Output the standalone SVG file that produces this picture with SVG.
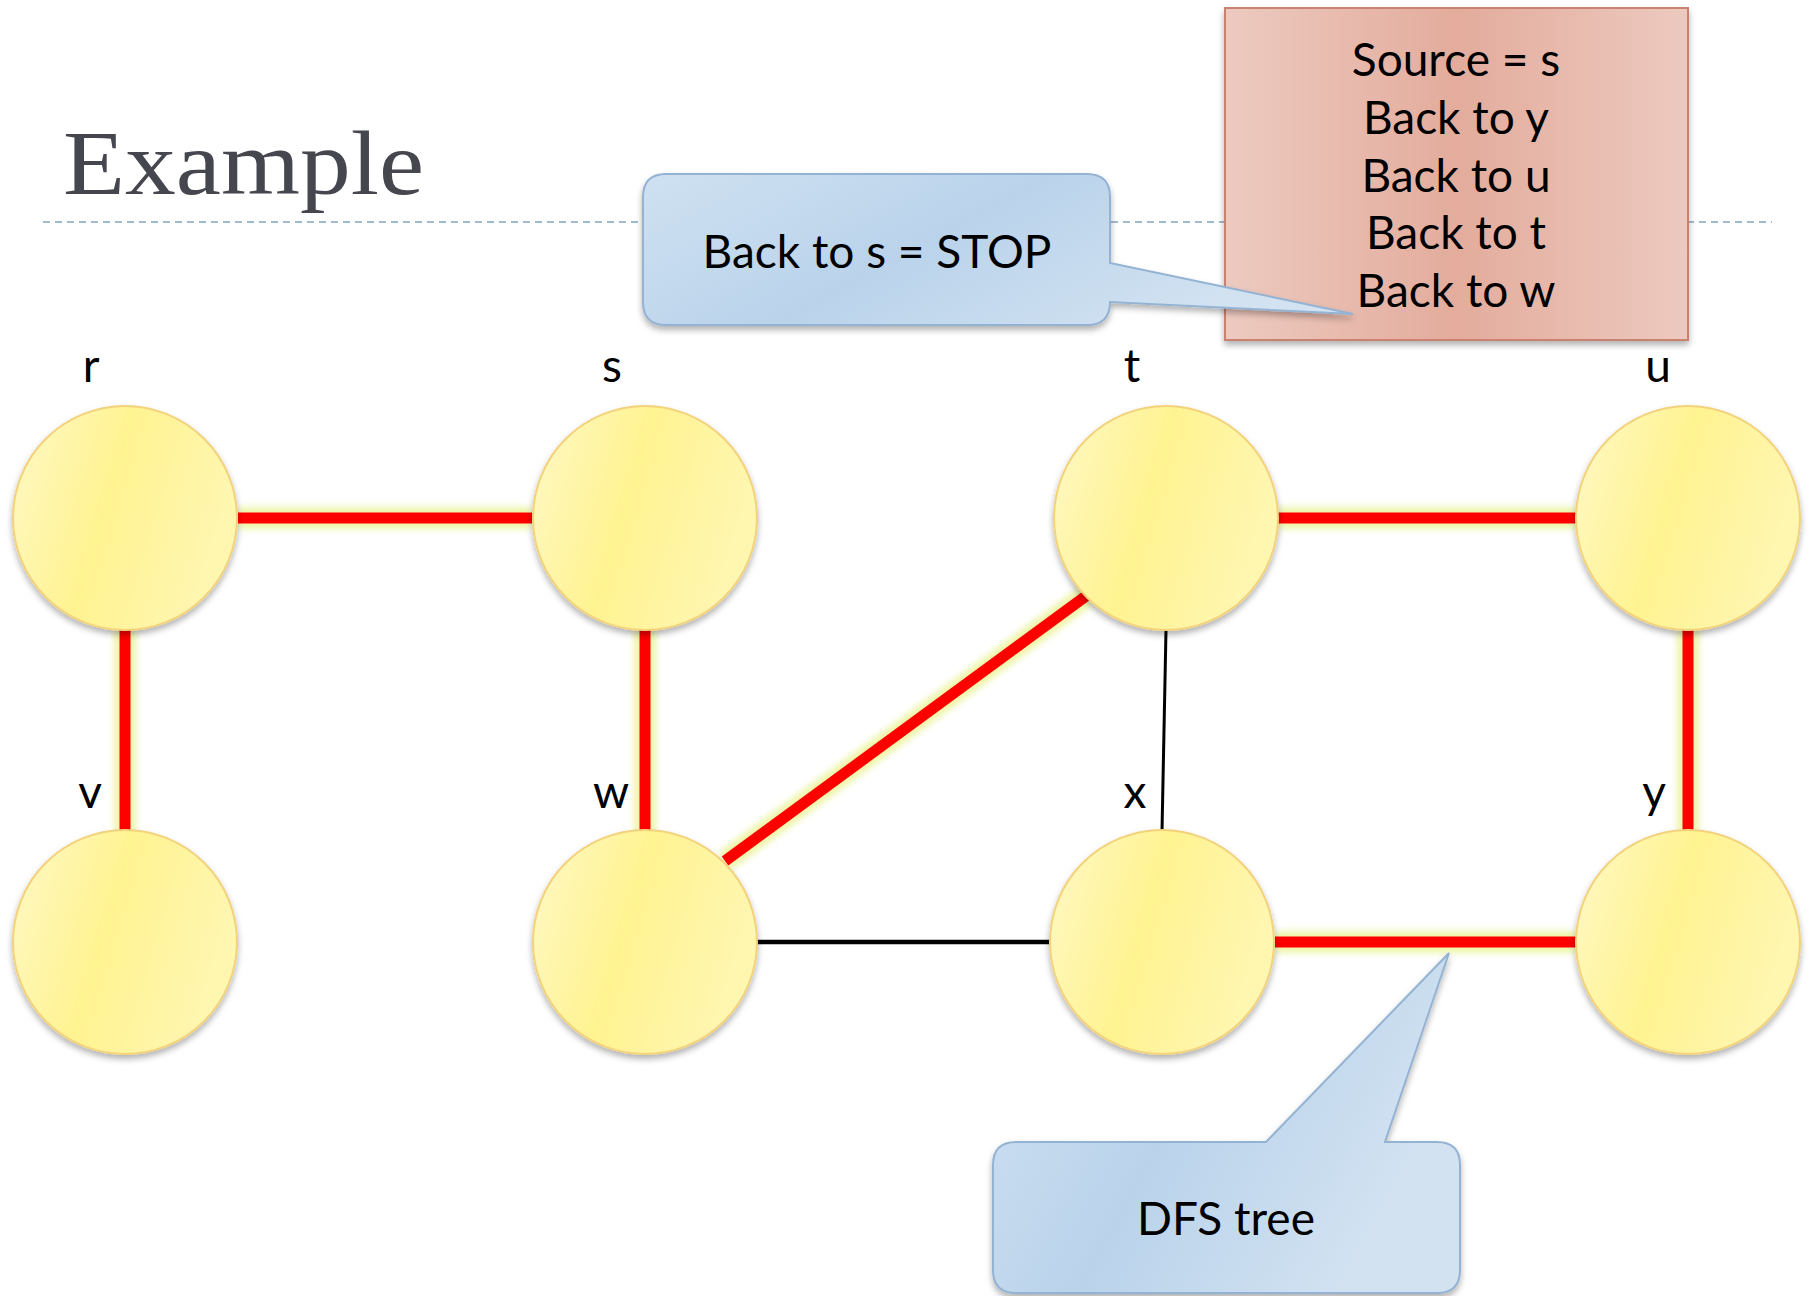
<svg xmlns="http://www.w3.org/2000/svg" width="1810" height="1296" viewBox="0 0 1810 1296">
<defs>
<linearGradient id="nodeFill" x1="0" y1="0" x2="1" y2="0.3">
<stop offset="0" stop-color="#FFF8C6"/>
<stop offset="0.5" stop-color="#FFF391"/>
<stop offset="1" stop-color="#FFF6B0"/>
</linearGradient>
<linearGradient id="blueFill" x1="0" y1="0" x2="1" y2="0.4">
<stop offset="0" stop-color="#CFE1F1"/>
<stop offset="0.5" stop-color="#BAD3EB"/>
<stop offset="1" stop-color="#D2E2F1"/>
</linearGradient>
<linearGradient id="redFill" x1="0" y1="0" x2="1" y2="0">
<stop offset="0" stop-color="#EDCAC0"/>
<stop offset="0.5" stop-color="#E3AC9C"/>
<stop offset="1" stop-color="#EDC9BF"/>
</linearGradient>
<filter id="shadow" x="-20%" y="-20%" width="140%" height="150%">
<feDropShadow dx="0" dy="4" stdDeviation="3" flood-color="#000" flood-opacity="0.3"/>
</filter>
<filter id="glow" filterUnits="userSpaceOnUse" x="0" y="0" width="1810" height="1296">
<feGaussianBlur stdDeviation="3"/>
</filter>
</defs>
<style>
.lbl{font-family:"Lato","Open Sans",sans-serif;font-size:46px;fill:#000;text-anchor:middle}
.box{font-family:"Lato","Open Sans",sans-serif;font-size:46px;fill:#000;text-anchor:middle}
.node{fill:url(#nodeFill);stroke:#F3D27C;stroke-width:2;filter:url(#shadow)}
.tree{stroke:#FF0000;stroke-width:11;fill:none}
.halo{stroke:#EEF5A8;stroke-width:22;fill:none}
.plain{stroke:#000;fill:none}
.callout{fill:url(#blueFill);stroke:#94B3D3;stroke-width:2;filter:url(#shadow)}
</style>
<rect width="1810" height="1296" fill="#FFFFFF"/>
<text x="63" y="194" font-family="Liberation Serif, serif" font-size="92" fill="#46464F" textLength="361" lengthAdjust="spacingAndGlyphs">Example</text>
<line x1="43" y1="222" x2="1772" y2="222" stroke="#A3BBCF" stroke-width="2" stroke-dasharray="7 5"/>

<g id="connectors">
<g filter="url(#glow)">
<line class="halo" x1="238" y1="518" x2="532" y2="518"/>
<line class="halo" x1="125" y1="630" x2="125" y2="831"/>
<line class="halo" x1="645" y1="630" x2="645" y2="831"/>
<line class="halo" x1="725" y1="861" x2="1086" y2="596"/>
<line class="halo" x1="1278" y1="518" x2="1576" y2="518"/>
<line class="halo" x1="1688" y1="630" x2="1688" y2="831"/>
<line class="halo" x1="1275" y1="942" x2="1576" y2="942"/>
</g>
<line class="tree" x1="238" y1="518" x2="532" y2="518"/>
<line class="tree" x1="125" y1="630" x2="125" y2="831"/>
<line class="tree" x1="645" y1="630" x2="645" y2="831"/>
<line class="tree" x1="725" y1="861" x2="1086" y2="596"/>
<line class="tree" x1="1278" y1="518" x2="1576" y2="518"/>
<line class="tree" x1="1688" y1="630" x2="1688" y2="831"/>
<line class="tree" x1="1275" y1="942" x2="1576" y2="942"/>
<line class="plain" stroke-width="4.5" x1="757" y1="942" x2="1050" y2="942"/>
<line class="plain" stroke-width="3" x1="1166" y1="630" x2="1162" y2="831"/>
</g>

<g id="node-r"><circle class="node" cx="125" cy="518" r="112"/><text class="lbl" x="91" y="382">r</text></g>
<g id="node-s"><circle class="node" cx="645" cy="518" r="112"/><text class="lbl" x="612" y="382">s</text></g>
<g id="node-t"><circle class="node" cx="1166" cy="518" r="112"/><text class="lbl" x="1132" y="382">t</text></g>
<g id="node-u"><circle class="node" cx="1688" cy="518" r="112"/><text class="lbl" x="1658" y="382">u</text></g>
<g id="node-v"><circle class="node" cx="125" cy="942" r="112"/><text class="lbl" x="90" y="808">v</text></g>
<g id="node-w"><circle class="node" cx="645" cy="942" r="112"/><text class="lbl" x="611" y="808">w</text></g>
<g id="node-x"><circle class="node" cx="1162" cy="942" r="112"/><text class="lbl" x="1135" y="808">x</text></g>
<g id="node-y"><circle class="node" cx="1688" cy="942" r="112"/><text class="lbl" x="1654" y="808">y</text></g>

<g id="stack-box">
<rect x="1225" y="8" width="463" height="332" fill="url(#redFill)" stroke="#C9826F" stroke-width="2" filter="url(#shadow)"/>
<text class="box" x="1456" y="76">Source = s</text>
<text class="box" x="1456" y="134">Back to y</text>
<text class="box" x="1456" y="192">Back to u</text>
<text class="box" x="1456" y="249">Back to t</text>
<text class="box" x="1456" y="307">Back to w</text>
</g>

<g id="callout-stop">
<path class="callout" d="M666,174 H1087 Q1110,174 1110,197 V263 L1353,314 L1110,302 Q1110,325 1087,325 H666 Q643,325 643,302 V197 Q643,174 666,174 Z"/>
<text class="box" x="877" y="268">Back to s = STOP</text>
</g>

<g id="callout-dfs">
<path class="callout" d="M1016,1142 H1266 L1449,953 L1385,1142 H1437 Q1460,1142 1460,1165 V1270 Q1460,1293 1437,1293 H1016 Q993,1293 993,1270 V1165 Q993,1142 1016,1142 Z"/>
<text class="box" x="1226" y="1235">DFS tree</text>
</g>
</svg>
